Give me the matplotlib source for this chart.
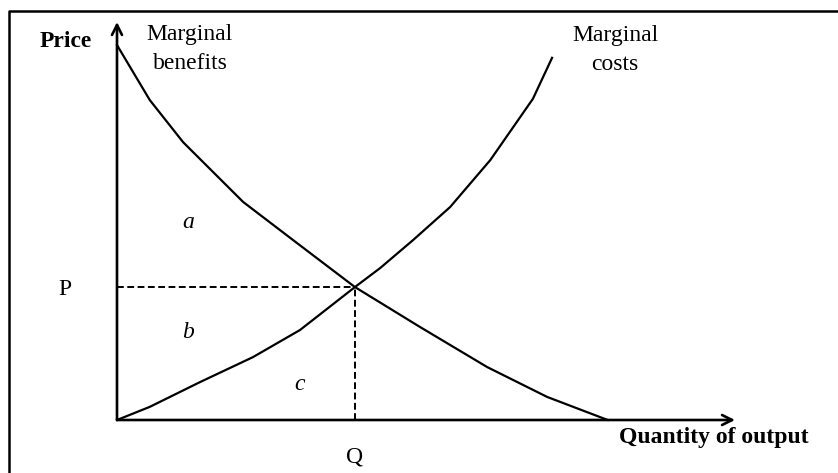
import matplotlib.pyplot as plt
from matplotlib.lines import Line2D

plt.rcParams['font.family'] = ['Liberation Serif', 'DejaVu Serif']

# marginal benefits curve (quantity, price)
mb_q = [0, 5.3, 10.7, 20.4, 28.5, 38.5, 49.0, 59.9, 69.6, 79.4]
mb_p = [94.2, 80.4, 69.8, 54.8, 45.2, 33.4, 23.4, 13.3, 5.8, 0]

# marginal costs curve
mc_q = [0, 5.3, 13.4, 22.0, 29.6, 38.5, 42.6, 47.9, 53.9, 60.4, 67.3, 70.4]
mc_p = [0, 3.3, 9.5, 15.8, 22.6, 33.4, 38.2, 45.2, 53.5, 65.3, 80.7, 91.0]

# equilibrium
q_eq = 38.5
p_eq = 33.4

area_labels = ['a', 'b', 'c']
area_x = [11.5, 11.5, 29.6]
area_y = [49.7, 21.9, 8.8]

fig = plt.figure(figsize=(8.38, 4.73), dpi=100)
ax = fig.add_axes([117 / 838, 53 / 473, 618 / 838, 398 / 473])
ax.set_xlim(0, 100)
ax.set_ylim(0, 100)
ax.axis('off')

# outer frame (only left and top edges visible in the original)
fig.add_artist(Line2D([9 / 838, 9 / 838, 1.0], [0, 1 - 11 / 473, 1 - 11 / 473],
                      transform=fig.transFigure, color='black', lw=1.8))

# axes with arrows
arrow = dict(arrowstyle='->', lw=1.9, color='black', mutation_scale=18,
             shrinkA=0, shrinkB=0)
ax.annotate('', xy=(100, 0), xytext=(0, 0), arrowprops=arrow, annotation_clip=False)
ax.annotate('', xy=(0, 100), xytext=(0, 0), arrowprops=arrow, annotation_clip=False)

ax.plot(mb_q, mb_p, color='black', lw=1.6, clip_on=False, solid_joinstyle='round')
ax.plot(mc_q, mc_p, color='black', lw=1.6, clip_on=False, solid_joinstyle='round')

ax.plot([0, q_eq], [p_eq, p_eq], color='black', lw=1.4, dashes=(3.5, 1.8))
ax.plot([q_eq, q_eq], [0, p_eq], color='black', lw=1.4, dashes=(3.5, 1.8))

fs = 17
ax.text(-8.3, 95.0, 'Price', fontsize=fs, fontweight='bold', ha='center', va='center')
ax.text(11.8, 93.1, 'Marginal\nbenefits', fontsize=fs, ha='center', va='center',
        linespacing=1.5)
ax.text(80.6, 92.9, 'Marginal\ncosts', fontsize=fs, ha='center', va='center',
        linespacing=1.5)
ax.text(96.6, -4.5, 'Quantity of output', fontsize=fs, fontweight='bold',
        ha='center', va='center')
ax.text(q_eq, -9.3, 'Q', fontsize=fs, ha='center', va='center')
ax.text(-8.4, p_eq - 0.7, 'P', fontsize=fs, ha='center', va='center')

for lab, x, y in zip(area_labels, area_x, area_y):
    ax.text(x, y, lab, fontsize=fs, style='italic', ha='center', va='center')

fig.savefig('out.png', dpi=100)
